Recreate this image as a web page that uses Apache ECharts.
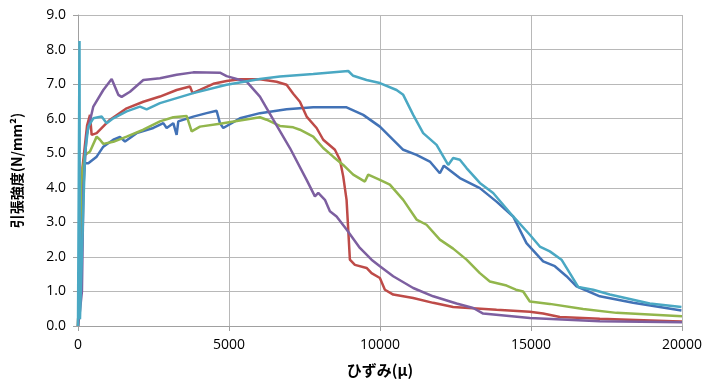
<!DOCTYPE html>
<html><head><meta charset="utf-8">
<script src="https://cdn.jsdelivr.net/npm/echarts@6/dist/echarts.min.js"></script>
<style>html,body{margin:0;padding:0;background:#fff}#c{width:716px;height:381px}</style>
</head><body><div id="c"></div>
<script>
var xTicks = [0, 5000, 10000, 15000, 20000];
var yTicks = [0, 1, 2, 3, 4, 5, 6, 7, 8, 9];
var xName = 'ひずみ(μ)';
var yName = '引張強度(N/mm²)';

var blue = [[0,0],[80,2.5],[150,4.2],[232,4.71],[342,4.71],[618,4.90],[838,5.19],[1169,5.39],[1390,5.47],[1556,5.34],[1942,5.58],[2494,5.73],[2825,5.87],[2935,5.73],[3156,5.87],[3266,5.53],[3321,5.92],[3818,6.06],[4259,6.16],[4590,6.23],[4700,5.87],[4810,5.73],[5362,6.01],[6024,6.16],[6907,6.27],[7789,6.33],[8893,6.33],[9444,6.11],[9996,5.77],[10769,5.10],[11210,4.95],[11651,4.76],[11982,4.42],[12115,4.64],[12644,4.28],[13306,3.99],[13858,3.60],[14409,3.17],[14850,2.40],[15402,1.87],[15789,1.73],[16175,1.44],[16506,1.15],[17278,0.86],[18381,0.67],[19982,0.45]];
var red = [[0,0],[80,2.5],[150,4.6],[300,5.8],[397,6.11],[452,5.53],[618,5.58],[1059,5.97],[1611,6.30],[2163,6.49],[2714,6.64],[3266,6.83],[3707,6.93],[3795,6.74],[4038,6.83],[4479,7.01],[4921,7.09],[5362,7.14],[6024,7.14],[6576,7.07],[6907,6.98],[7127,6.72],[7348,6.49],[7570,6.06],[7901,5.73],[8120,5.39],[8507,5.10],[8672,4.81],[8782,4.33],[8893,3.65],[8948,2.79],[9003,1.92],[9169,1.77],[9556,1.68],[9720,1.53],[9996,1.39],[10162,1.05],[10437,0.91],[11099,0.81],[11761,0.67],[12423,0.55],[13859,0.47],[14961,0.41],[15402,0.36],[15954,0.26],[17278,0.21],[19695,0.14],[20000,0.13]];
var green = [[0,0],[80,2.5],[150,4.5],[232,4.95],[397,5.05],[618,5.48],[728,5.39],[838,5.27],[1169,5.33],[1611,5.48],[2163,5.68],[2714,5.92],[3156,6.04],[3597,6.08],[3763,5.63],[4038,5.77],[4700,5.85],[5362,5.95],[6024,6.04],[6245,5.97],[6686,5.79],[7127,5.75],[7348,5.68],[7789,5.48],[8120,5.15],[8451,4.90],[8782,4.66],[9113,4.38],[9500,4.18],[9610,4.38],[9996,4.23],[10327,4.09],[10769,3.65],[11210,3.08],[11541,2.93],[11982,2.50],[12423,2.24],[12866,1.92],[13306,1.53],[13637,1.29],[14190,1.17],[14500,1.05],[14740,1.00],[14961,0.71],[15623,0.64],[16726,0.49],[17830,0.38],[20000,0.28]];
var purple = [[0,0],[60,0.4],[130,1.0],[180,4.0],[280,5.5],[507,6.35],[838,6.83],[1115,7.15],[1335,6.69],[1445,6.63],[1721,6.78],[2163,7.12],[2714,7.17],[3266,7.27],[3818,7.34],[4700,7.33],[4921,7.23],[5584,7.07],[6024,6.64],[6465,5.97],[7017,5.15],[7570,4.23],[7845,3.75],[7955,3.85],[8176,3.65],[8341,3.32],[8562,3.17],[8893,2.79],[9334,2.26],[9720,1.92],[9996,1.73],[10437,1.44],[11099,1.10],[11761,0.86],[12535,0.65],[13087,0.52],[13416,0.36],[14190,0.30],[14961,0.23],[17278,0.14],[20000,0.11]];
var aqua = [[0,0],[50,8.25],[65,0.2],[232,5.0],[342,5.77],[507,6.01],[783,6.06],[949,5.87],[1169,6.01],[1611,6.21],[2052,6.35],[2273,6.27],[2714,6.45],[3818,6.74],[4921,6.98],[6024,7.15],[6686,7.22],[7789,7.29],[8948,7.38],[9113,7.24],[9555,7.12],[9996,7.03],[10548,6.83],[10769,6.69],[11099,6.11],[11430,5.58],[11873,5.24],[12257,4.66],[12423,4.86],[12644,4.81],[12865,4.57],[13306,4.14],[13747,3.85],[14409,3.17],[14961,2.64],[15292,2.30],[15623,2.16],[16010,1.92],[16285,1.53],[16561,1.13],[17057,1.05],[17609,0.91],[18381,0.76],[18933,0.65],[19982,0.55]];

var names = ['blue','red','green','purple','aqua'];
var datas = [blue, red, green, purple, aqua];
var colors = ['#4272B6','#BE4B48','#92B64C','#7D5FA0','#4AA8C3'];

var chart = echarts.init(document.getElementById('c'));
var lbl = {color:'#000', fontSize:14, fontFamily:'Open Sans'};
chart.setOption({
  animation:false,
  grid:{left:78, right:34, top:15, bottom:55, containLabel:false, outerBoundsMode:'none'},
  xAxis:{type:'value', min:xTicks[0], max:xTicks[xTicks.length-1], interval:5000,
    name:xName, nameLocation:'middle', nameGap:37,
    nameTextStyle:{fontFamily:'Noto Sans CJK JP', fontWeight:'bold', fontSize:15, color:'#000'},
    axisLine:{show:true, lineStyle:{color:'#a0a0a0'}},
    axisTick:{show:true, length:5, lineStyle:{color:'#a0a0a0'}},
    axisLabel:Object.assign({margin:12, formatter:function(v){return String(v);}}, lbl),
    splitLine:{show:true, lineStyle:{color:'#b8b8b8', width:1}}},
  yAxis:{type:'value', min:yTicks[0], max:yTicks[yTicks.length-1], interval:1,
    name:yName, nameLocation:'middle', nameGap:54, nameRotate:90,
    nameTextStyle:{fontFamily:'Noto Sans CJK JP', fontWeight:'bold', fontSize:14, color:'#000'},
    axisLine:{show:true, lineStyle:{color:'#a0a0a0'}},
    axisTick:{show:true, length:5, lineStyle:{color:'#a0a0a0'}},
    axisLabel:Object.assign({margin:12, formatter:function(v){return v.toFixed(1);}}, lbl),
    splitLine:{show:true, lineStyle:{color:'#b8b8b8', width:1}}},
  series: datas.map(function(d,i){
    return {name:names[i], type:'line', data:d, showSymbol:false, symbol:'none',
      lineStyle:{color:colors[i], width:2.5}, itemStyle:{color:colors[i]}, z:2+i};
  })
});
</script></body></html>
